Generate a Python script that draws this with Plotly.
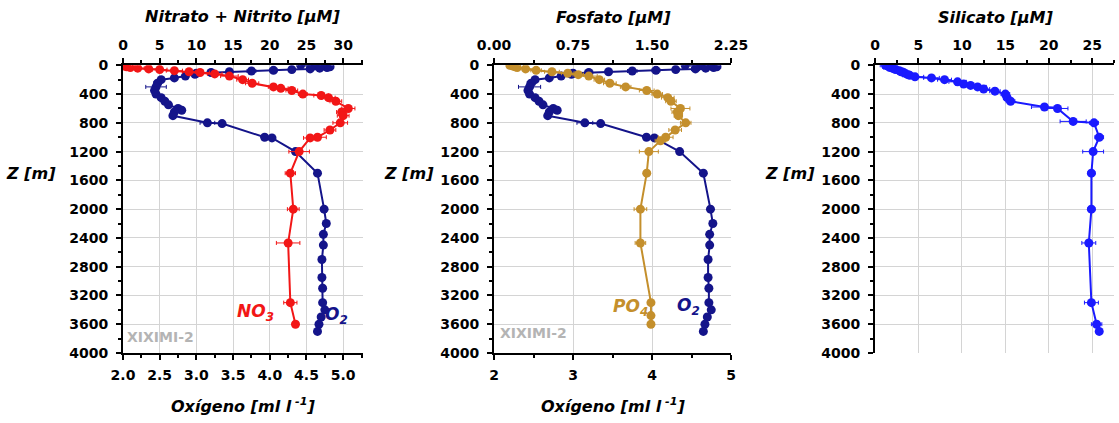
import plotly.graph_objects as go

# ---------------- data ----------------
# Dissolved oxygen profile (ml/l) at station XIXIMI-2
o2_depth = [0, 5, 10, 20, 30, 40, 50, 60, 70, 80, 90, 100, 110, 125, 150, 175, 200,
            250, 300, 350, 400, 450, 500, 550, 600, 625, 650, 700, 800, 810, 1000, 1010,
            1200, 1500, 2000, 2200, 2350, 2500, 2700, 2950, 3100, 3300, 3400, 3500,
            3600, 3700]
o2_val = [4.42, 4.62, 4.75, 4.82, 4.78, 4.68, 4.55, 4.30, 4.05, 3.75, 3.45, 3.20, 3.00,
          2.98, 2.85, 2.70, 2.52, 2.47, 2.45, 2.43, 2.45, 2.52, 2.57, 2.62, 2.75, 2.80,
          2.70, 2.68, 3.15, 3.35, 3.93, 4.03, 4.35, 4.65, 4.74, 4.77, 4.73, 4.73, 4.71,
          4.71, 4.72, 4.72, 4.75, 4.70, 4.67, 4.65]
o2_err = [0.03, 0.05, 0.04, 0.05, 0.03, 0.06, 0.05, 0.04, 0.05, 0.06, 0.04, 0.05, 0.03,
          0.04, 0.03, 0.03, 0.04, 0.05, 0.14, 0.03, 0.04, 0.03, 0.03, 0.03, 0.04, 0.03,
          0.03, 0.03, 0.10, 0.04, 0.03, 0.03, 0.0, 0.0, 0.0, 0.0, 0.0, 0.0, 0.0, 0.0,
          0.0, 0.0, 0.0, 0.0, 0.0, 0.0]

# Nitrate + nitrite (uM)
no3_depth = [0, 10, 20, 30, 40, 50, 60, 75, 90, 100, 120, 150, 200, 250, 300, 320, 350,
             400, 420, 450, 500, 600, 650, 700, 800, 900, 1000, 1010, 1200, 1500, 2000,
             2470, 3300, 3600]
no3_val = [0.1, 0.2, 0.5, 1.0, 2.0, 3.5, 5.0, 7.0, 9.0, 10.5, 12.5, 14.5, 16.3, 17.6,
           20.5, 21.5, 23.0, 24.5, 27.0, 28.0, 29.0, 30.7, 29.8, 30.0, 29.6, 28.2, 26.5,
           25.5, 24.0, 22.8, 23.2, 22.5, 22.8, 23.5]
no3_err = [0.3, 0.5, 0.8, 1.0, 0.9, 1.2, 1.0, 1.1, 0.9, 1.3, 1.0, 1.2, 0.8, 0.9, 0.7,
           1.0, 0.8, 0.6, 1.0, 0.9, 0.8, 0.9, 0.7, 0.8, 1.0, 0.8, 1.2, 0.9, 1.4, 0.7,
           0.8, 1.6, 0.9, 0.3]

# Phosphate (uM)
po4_depth = [0, 10, 20, 30, 50, 70, 90, 110, 130, 150, 200, 250, 300, 350, 400, 450,
             500, 600, 650, 700, 800, 900, 1000, 1050, 1200, 1500, 2000, 2470, 3300,
             3480, 3600]
po4_val = [0.15, 0.18, 0.20, 0.22, 0.30, 0.40, 0.55, 0.70, 0.80, 0.90, 1.00, 1.10, 1.25,
           1.45, 1.55, 1.65, 1.68, 1.77, 1.74, 1.75, 1.82, 1.72, 1.63, 1.58, 1.47, 1.45,
           1.39, 1.39, 1.49, 1.49, 1.49]
po4_err = [0.03, 0.04, 0.05, 0.06, 0.08, 0.05, 0.07, 0.06, 0.05, 0.08, 0.05, 0.06, 0.05,
           0.07, 0.05, 0.06, 0.05, 0.09, 0.05, 0.04, 0.05, 0.06, 0.07, 0.05, 0.09, 0.03,
           0.06, 0.05, 0.02, 0.02, 0.02]

# Silicate (uM)
sio4_depth = [0, 10, 20, 30, 40, 50, 60, 75, 90, 100, 120, 140, 160, 175, 200, 230,
              260, 280, 300, 330, 360, 400, 450, 500, 580, 600, 780, 800, 1000, 1200,
              1500, 2000, 2470, 3300, 3600, 3700]
sio4_val = [1.2, 1.5, 1.6, 1.8, 2.0, 2.2, 2.4, 2.8, 3.0, 3.3, 3.6, 4.0, 4.6, 6.5, 8.0,
            9.5, 10.2, 11.0, 11.8, 12.5, 13.8, 15.0, 15.2, 15.6, 19.5, 21.0, 22.8, 25.2,
            25.8, 25.1, 24.9, 24.9, 24.6, 24.9, 25.5, 25.8]
sio4_err = [0.6, 0.5, 0.7, 0.8, 0.6, 0.5, 0.9, 0.6, 0.5, 0.7, 0.6, 0.8, 1.0, 0.9, 0.8,
            1.0, 0.9, 0.8, 1.0, 0.7, 0.6, 0.5, 0.4, 0.5, 1.5, 1.2, 1.5, 0.5, 0.5, 1.2,
            0.4, 0.4, 0.8, 0.8, 0.6, 0.3]

# ---------------- styling ----------------
W, H = 1119, 423
FONT = "DejaVu Sans"
NAVY = "#14148a"
RED = "#f21616"
GOLD = "#c48f2c"
BLUE = "#1a1aff"
GRID = "#d4d4d4"


def px(x):
    return x / W


def py(y):
    return 1 - y / H


panels = {
    1: (123, 363),
    2: (494, 731),
    3: (875, 1114),
}
ydom = [py(353), py(65.3)]


def profile(x, y, err, color, xa, ya):
    return go.Scatter(
        x=x, y=y, xaxis=xa, yaxis=ya, mode="lines+markers",
        line=dict(color=color, width=2),
        marker=dict(color=color, size=9),
        error_x=dict(type="data", array=err, color=color, thickness=1, width=2),
        showlegend=False, hoverinfo="skip",
    )


fig = go.Figure()
fig.add_trace(profile(o2_val, o2_depth, o2_err, NAVY, "x", "y"))
fig.add_trace(profile(no3_val, no3_depth, no3_err, RED, "x2", "y"))
fig.add_trace(profile(o2_val, o2_depth, o2_err, NAVY, "x3", "y2"))
fig.add_trace(profile(po4_val, po4_depth, po4_err, GOLD, "x4", "y2"))
fig.add_trace(profile(sio4_val, sio4_depth, sio4_err, BLUE, "x5", "y3"))

tickfont = dict(family=FONT, size=14, color="black", weight="bold")


def xax(dom, rng, dtick, minor, fmt, side, anchor, grid, overlay=None):
    d = dict(
        domain=dom, range=rng, tick0=0 if side == "top" else rng[0], dtick=dtick,
        tickformat=fmt, side=side, anchor=anchor, automargin=False,
        showline=True, linecolor="black", linewidth=2,
        ticks="outside", ticklen=5, tickwidth=2, tickcolor="black",
        minor=dict(dtick=minor, ticks="outside", ticklen=3, tickwidth=2,
                   tickcolor="black", showgrid=False),
        showgrid=grid, gridcolor=GRID, gridwidth=1, zeroline=False,
        tickfont=tickfont, ticklabelstandoff=3,
    )
    if overlay:
        d["overlaying"] = overlay
    return d


def yax(dom, anchor):
    return dict(
        domain=dom, range=[4000, 0], anchor=anchor, dtick=400, tick0=0,
        automargin=False,
        showline=True, linecolor="black", linewidth=2,
        ticks="outside", ticklen=5, tickwidth=2, tickcolor="black",
        minor=dict(dtick=200, ticks="outside", ticklen=3, tickwidth=2,
                   tickcolor="black", showgrid=False),
        showgrid=True, gridcolor=GRID, gridwidth=1, zeroline=False,
        tickfont=tickfont, ticklabelstandoff=5,
    )


d1 = [px(panels[1][0]), px(panels[1][1])]
d2 = [px(panels[2][0]), px(panels[2][1])]
d3 = [px(panels[3][0]), px(panels[3][1])]

fig.update_layout(
    width=W, height=H, margin=dict(l=0, r=0, t=0, b=0, autoexpand=False),
    paper_bgcolor="white", plot_bgcolor="white",
    xaxis=xax(d1, [2.0, 5.27], 0.5, 0.25, ".1f", "bottom", "y", False),
    xaxis2=xax(d1, [0, 32.7], 5, 2.5, "d", "top", "y", True, overlay="x"),
    xaxis3=xax(d2, [2, 5], 1, 0.5, "d", "bottom", "y2", False),
    xaxis4=xax(d2, [0, 2.25], 0.75, 0.375, ".2f", "top", "y2", True, overlay="x3"),
    xaxis5=xax(d3, [0, 27.5], 5, 2.5, "d", "top", "y3", True),
    yaxis=yax(ydom, "x"),
    yaxis2=yax(ydom, "x3"),
    yaxis3=yax(ydom, "x5"),
)

titlefont = dict(family=FONT, size=16, color="black", weight="bold", style="italic")
labelfont = dict(family=FONT, size=17, weight="bold", style="italic")


def note(x, y, text, font):
    fig.add_annotation(x=px(x), y=py(y), xref="paper", yref="paper", text=text,
                       showarrow=False, font=font, xanchor="center", yanchor="middle")


note(243, 17, "Nitrato + Nitrito [µM]", titlefont)
note(613, 18, "Fosfato [µM]", titlefont)
note(995, 18, "Silicato [µM]", titlefont)
for zx in (31, 409, 790):
    note(zx, 173, "Z [m]", titlefont)
note(243, 405, "Oxígeno [ml l<sup> -1</sup>]", titlefont)
note(613, 405, "Oxígeno [ml l<sup> -1</sup>]", titlefont)

note(255, 312, "NO<sub>3</sub>", dict(labelfont, color=RED))
note(336, 315, "O<sub>2</sub>", dict(labelfont, color=NAVY))
note(630, 307, "PO<sub>4</sub>", dict(labelfont, color=GOLD))
note(688, 306, "O<sub>2</sub>", dict(labelfont, color=NAVY))

stationfont = dict(family=FONT, size=14, color="#b4b4b4", weight="bold")
note(160, 337, "XIXIMI-2", stationfont)
note(533, 333, "XIXIMI-2", stationfont)

fig.write_html("out.html")
